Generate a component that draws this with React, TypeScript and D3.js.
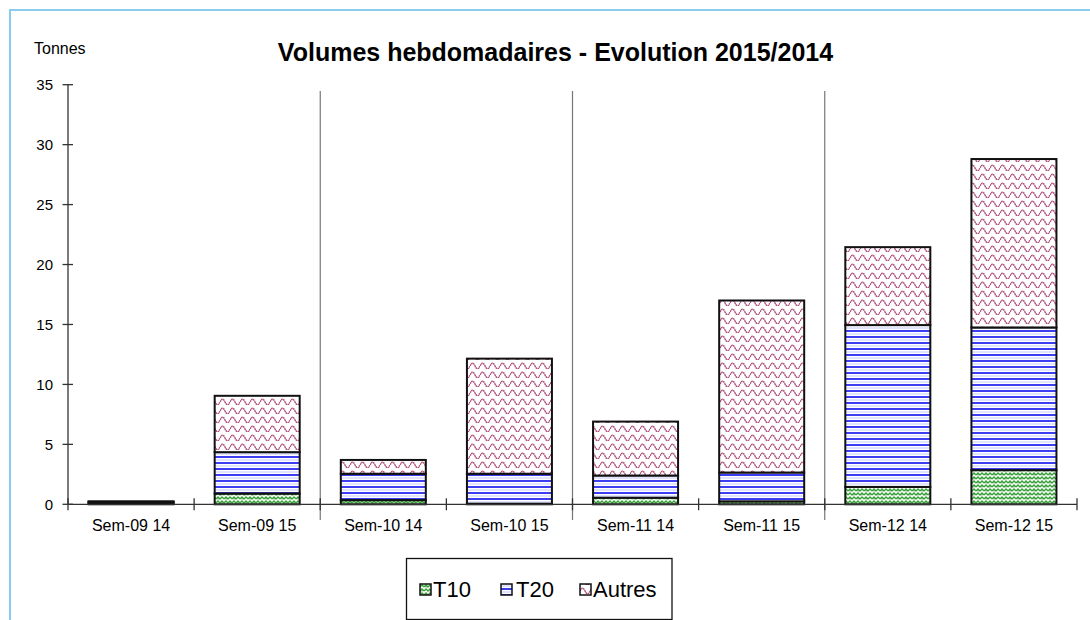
import React from "react";
import * as d3 from "d3";

const categories = ["Sem-09 14", "Sem-09 15", "Sem-10 14", "Sem-10 15", "Sem-11 14", "Sem-11 15", "Sem-12 14", "Sem-12 15"];
const t10 = [0.1, 0.9, 0.35, 0.05, 0.55, 0.25, 1.45, 2.85];
const t20 = [0.1, 3.45, 2.2, 2.5, 1.85, 2.4, 13.5, 11.9];
const autres = [0.05, 4.7, 1.15, 9.6, 4.5, 14.35, 6.5, 14.05];
const seriesNames = ["T10", "T20", "Autres"];
const yTicks = [0, 5, 10, 15, 20, 25, 30, 35];
const separatorsAfter = [1, 3, 5];

const W = 1090, H = 620;
const x0 = 68, x1 = 1077, yTop = 84.7, yBot = 504.3;

export default function App() {
  const x = d3.scaleBand<string>().domain(categories).range([x0, x1]).paddingInner(0.326).paddingOuter(0.163);
  const y = d3.scaleLinear().domain([0, 35]).range([yBot, yTop]);
  const step = x.step();
  const rows = categories.map((c, i) => ({ cat: c, T10: t10[i], T20: t20[i], Autres: autres[i] }));
  const stacked = d3.stack<any>().keys(seriesNames)(rows);
  const fills = ["url(#pT10)", "url(#pT20)", "url(#pAutres)"];
  const font = "Arial, 'Liberation Sans', sans-serif";
  const legendItems = [
    { name: "T10", sx: 420, tx: 433 },
    { name: "T20", sx: 501, tx: 516 },
    { name: "Autres", sx: 580, tx: 593 },
  ];
  return (
    <svg width={W} height={H} style={{ position: "absolute", left: 0, top: 0, background: "#fff" }} fontFamily={font}>
      <defs>
        <pattern id="pT10" width="8" height="8" patternUnits="userSpaceOnUse">
          <rect width="8" height="8" fill="#fff" />
          <path d="M0,3 L2,1 L4,3 L6,1 L8,3 M0,7 L2,5 L4,7 L6,5 L8,7" stroke="#35a035" strokeWidth="1.4" fill="none" />
          <path d="M2,1 L2,3.5 M6,5 L6,7.5" stroke="#35a035" strokeWidth="1" fill="none" />
        </pattern>
        <pattern id="pT20" width="10" height="6" patternUnits="userSpaceOnUse">
          <rect width="10" height="6" fill="#fff" />
          <rect y="0" width="10" height="2" fill="#3d3df2" />
          <rect y="3.5" width="10" height="1" fill="#c6c8fb" />
        </pattern>
        <pattern id="pAutres" width="10" height="9" patternUnits="userSpaceOnUse">
          <rect width="10" height="9" fill="#fff" />
          <path d="M0,6 Q2.5,0.5 5,6 T10,6" stroke="#b04f7c" strokeWidth="1.4" fill="none" strokeDasharray="1.8 0.5" />
        </pattern>
      </defs>
      <rect x={10} y={10} width={1200} height={800} fill="none" stroke="#88cdee" strokeWidth={2} />
      <text x={555.5} y={61} textAnchor="middle" fontWeight="bold" fontSize={25}>Volumes hebdomadaires - Evolution 2015/2014</text>
      <text x={34} y={54} fontSize={16}>Tonnes</text>
      {separatorsAfter.map((i) => {
        const sx = x0 + step * (i + 1);
        return <line key={i} x1={sx} x2={sx} y1={91} y2={520} stroke="#777" strokeWidth={1.2} />;
      })}
      {stacked.map((s, si) =>
        s.map((d, i) => (
          <rect key={si + "-" + i} x={x(categories[i])} width={x.bandwidth()} y={y(d[1])} height={y(d[0]) - y(d[1])}
            fill={fills[si]} stroke="#111" strokeWidth={2} />
        ))
      )}
      <line x1={x0} x2={x0} y1={yTop} y2={yBot} stroke="#333" strokeWidth={1.3} />
      {yTicks.map((t) => (
        <g key={t}>
          <line x1={x0 - 5.5} x2={x0 + 5} y1={y(t)} y2={y(t)} stroke="#333" strokeWidth={1.3} />
          <text x={53} y={y(t)} dy="0.35em" textAnchor="end" fontSize={15}>{t}</text>
        </g>
      ))}
      <line x1={x0} x2={x1} y1={yBot} y2={yBot} stroke="#333" strokeWidth={1.3} />
      {d3.range(categories.length + 1).map((i) => (
        <line key={i} x1={x0 + step * i} x2={x0 + step * i} y1={yBot - 6} y2={yBot + 6} stroke="#333" strokeWidth={1.3} />
      ))}
      {categories.map((c) => (
        <text key={c} x={(x(c) as number) + x.bandwidth() / 2} y={531} textAnchor="middle" fontSize={16}>{c}</text>
      ))}
      <rect x={406.5} y={558.5} width={265.5} height={61} fill="#fff" stroke="#111" strokeWidth={1.3} />
      {legendItems.map((it, i) => (
        <g key={it.name}>
          <rect x={it.sx} y={584} width={11} height={11} fill={fills[i]} stroke="#111" strokeWidth={1.5} />
          <text x={it.tx} y={597} fontSize={22}>{it.name}</text>
        </g>
      ))}
    </svg>
  );
}
